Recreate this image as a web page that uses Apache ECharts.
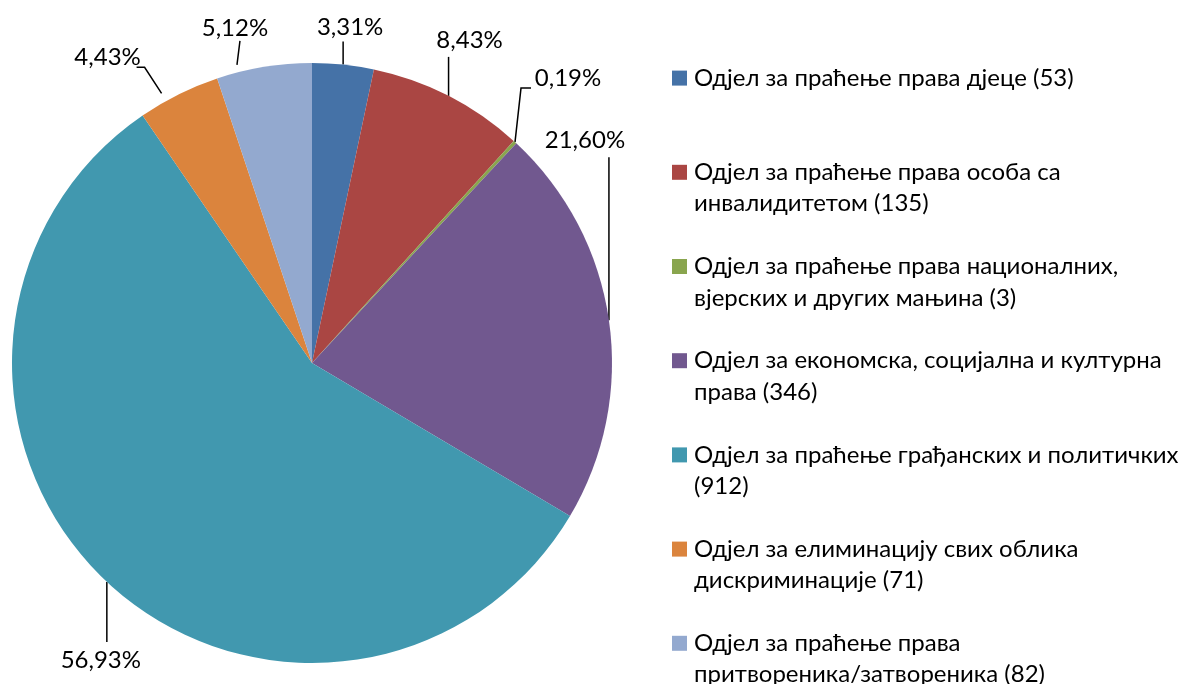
<!DOCTYPE html>
<html>
<head>
    <meta charset="utf-8">
    <script src="https://cdn.jsdelivr.net/npm/echarts@6/dist/echarts.min.js"></script>
    <style>
        html, body { margin: 0; padding: 0; background: #ffffff; }
        #chart { width: 1184px; height: 684px; }
    </style>
</head>
<body>
    <div id="chart"></div>
    <script type="text/javascript">
        // одјели и број предмета
        var categories = [
            'Одјел за праћење права дјеце (53)',
            'Одјел за праћење права особа са\nинвалидитетом (135)',
            'Одјел за праћење права националних,\nвјерских и других мањина (3)',
            'Одјел за економска, социјална и културна\nправа (346)',
            'Одјел за праћење грађанских и политичких\n(912)',
            'Одјел за елиминацију свих облика\nдискриминације (71)',
            'Одјел за праћење права\nпритвореника/затвореника (82)'
        ];
        var values = [53, 135, 3, 346, 912, 71, 82];
        var colors = ['#4572A7', '#AA4643', '#89A54E', '#71588F', '#4198AF', '#DB843D', '#93A9CF'];

        var total = values.reduce(function (a, b) { return a + b; }, 0);
        var pieData = [];
        for (var i = 0; i < values.length; i++) {
            pieData.push({ name: categories[i], value: values[i] });
        }

        // помак натписа од тачке на ободу и преломи линије (као у Excel-у)
        var labelPlace = [
            { at: [7, -37], line: [[0, 0], [0, -23]] },
            { at: [21, -56], line: [[0, 0], [0, -39]] },
            { at: [53, -64], line: [[0, 0], [6, -54], [16, -54]] },
            { at: [-24, -180], line: [[0, 0], [0, -163]] },
            { at: [-6, 78], line: [[0, 0], [0, 60]] },
            { at: [-71, -37], line: [[-17, -1], [-34, -27], [-42, -27]] },
            { at: [-29, -39], line: [[-27, -2], [-24, -26]] }
        ];

        var myChart = echarts.init(document.getElementById('chart'));
        var option = {
            backgroundColor: '#ffffff',
            color: colors,
            textStyle: { fontFamily: 'Lato, "Noto Sans", sans-serif' },
            legend: {
                orient: 'vertical',
                left: 667,
                top: 26,
                height: 800,
                itemWidth: 15,
                itemHeight: 15,
                itemGap: 0,
                icon: 'rect',
                selectedMode: false,
                textStyle: {
                    fontSize: 24,
                    color: '#000000',
                    lineHeight: 31.4,
                    padding: [0, 0, 0, 2]
                },
                // празан ред испред и (по потреби) иза, да квадратић стоји уз први ред
                formatter: function (name) {
                    var lines = name.split('\n');
                    if (lines.length < 2) lines.push(' ');
                    return ' \n' + lines.join('\n');
                }
            },
            series: [{
                type: 'pie',
                center: [312, 363],
                radius: [0, 300],
                startAngle: 90,
                clockwise: true,
                avoidLabelOverlap: false,
                data: pieData,
                itemStyle: { borderWidth: 0 },
                label: {
                    show: true,
                    position: 'outside',
                    color: '#000000',
                    fontSize: 24,
                    overflow: 'none',
                    formatter: function (p) {
                        return (p.value / total * 100).toFixed(2).replace('.', ',') + '%';
                    }
                },
                labelLine: {
                    show: true,
                    length: 20,
                    length2: 10,
                    lineStyle: { color: '#000000', width: 1.5 }
                },
                labelLayout: function (params) {
                    var a = params.labelLinePoints[0];
                    var p = labelPlace[params.dataIndex];
                    return {
                        x: a[0] + p.at[0],
                        y: a[1] + p.at[1],
                        align: 'center',
                        verticalAlign: 'middle',
                        labelLinePoints: p.line.map(function (d) {
                            return [a[0] + d[0], a[1] + d[1]];
                        })
                    };
                },
                emphasis: { disabled: true }
            }]
        };
        myChart.setOption(option);
    </script>
</body>
</html>
